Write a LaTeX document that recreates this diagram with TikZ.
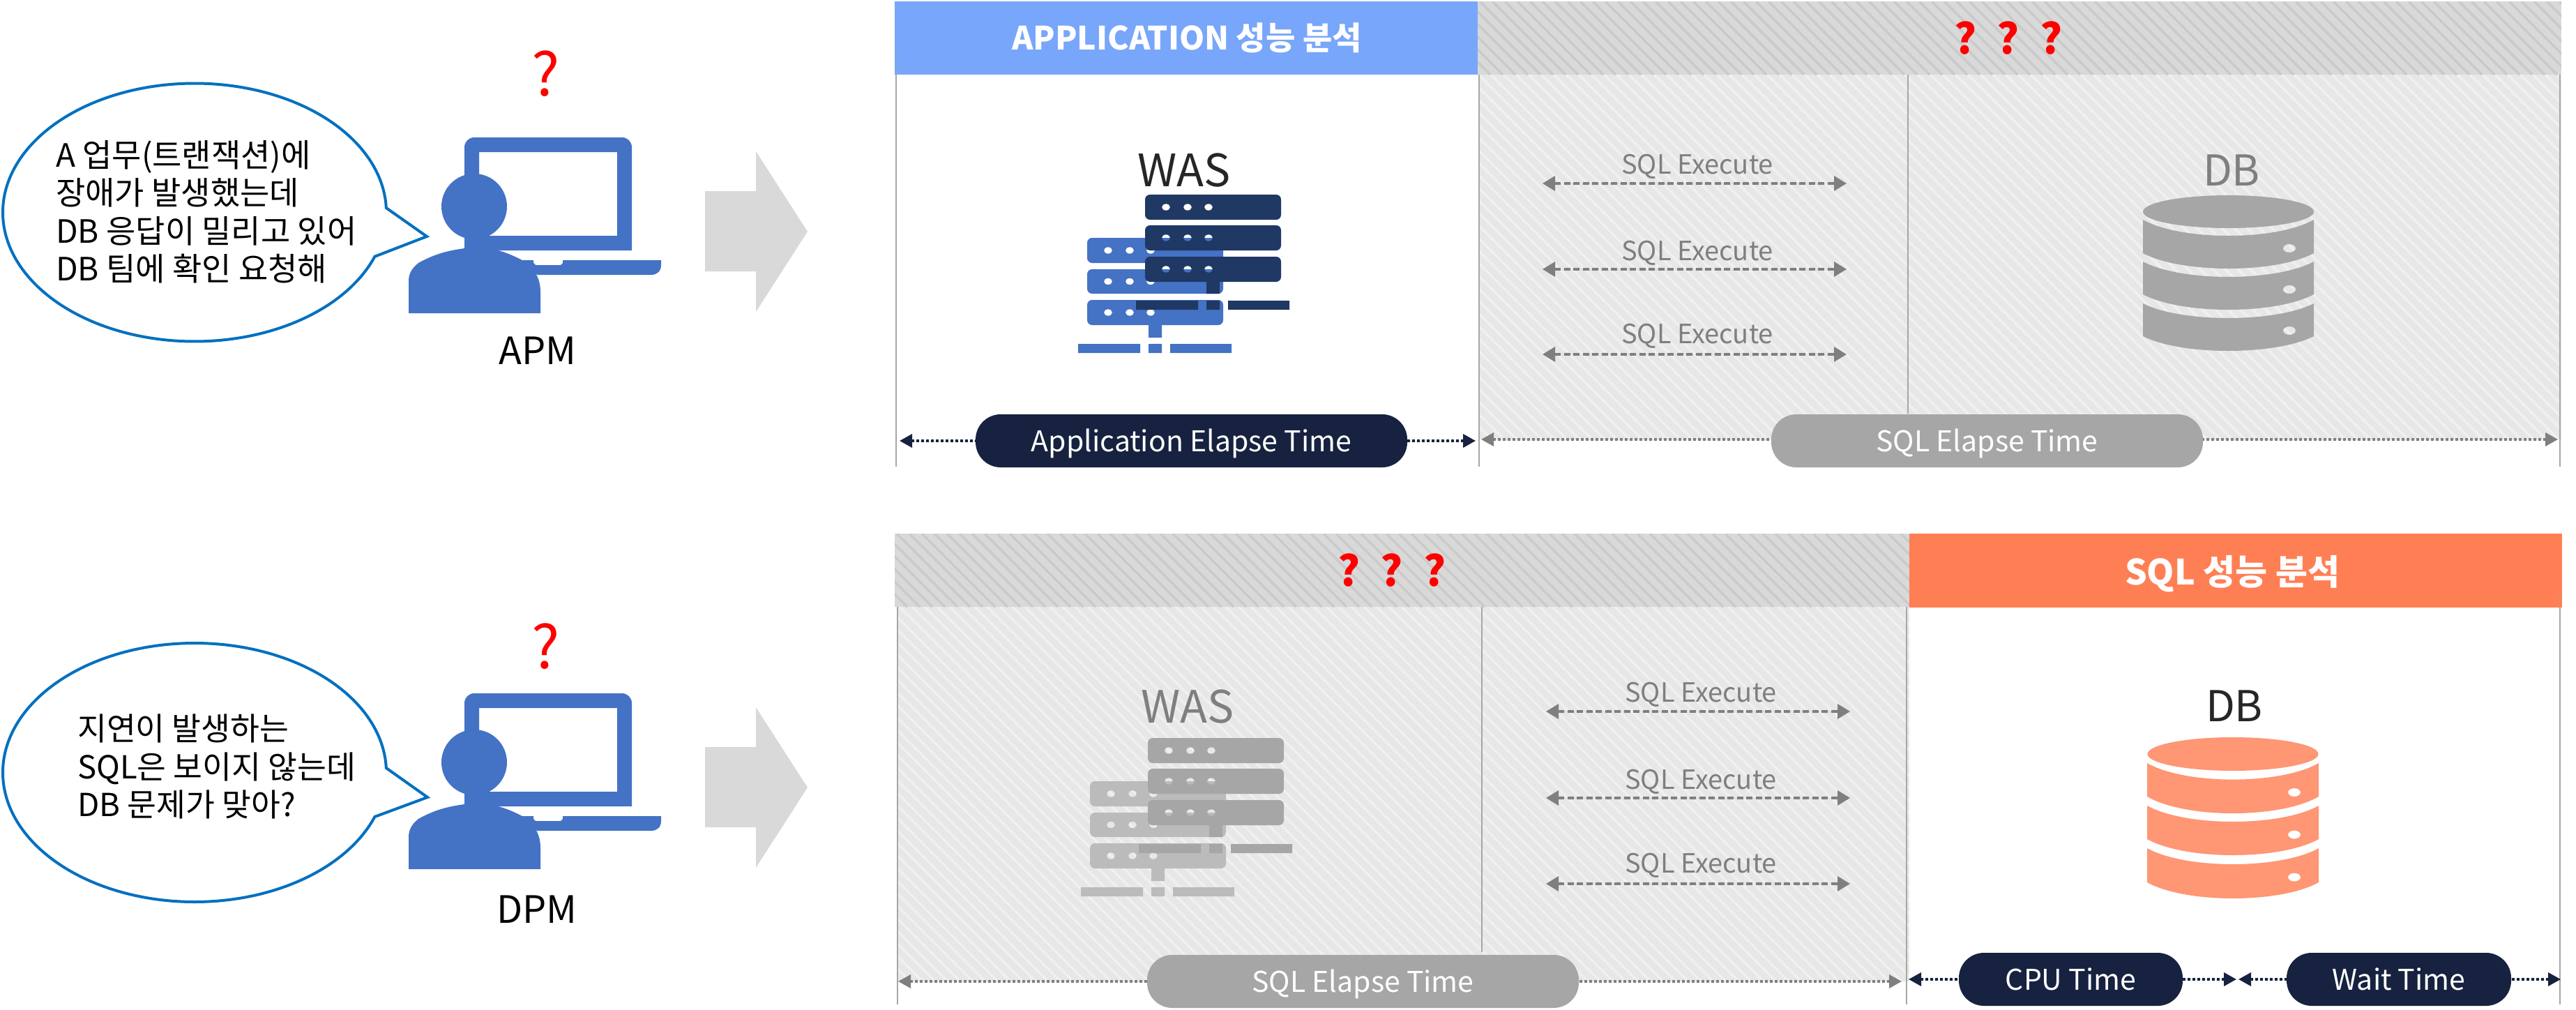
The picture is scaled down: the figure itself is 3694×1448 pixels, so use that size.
\documentclass[tikz,border=0pt]{standalone}
\usepackage{fontspec}
\setmainfont{Noto Sans CJK KR}
\usetikzlibrary{arrows.meta,calc}
\definecolor{hdrblue}{HTML}{78A6FA}
\definecolor{hdrorange}{HTML}{FF7F54}
\definecolor{personblue}{HTML}{4472C4}
\definecolor{srvnavy}{HTML}{1F3864}
\definecolor{pillnavy}{HTML}{16223F}
\definecolor{pillgray}{HTML}{A6A6A6}
\definecolor{lightgray}{HTML}{BBBBBB}
\definecolor{txtgray}{HTML}{7F7F7F}
\definecolor{dbsalmon}{HTML}{FF9674}
\definecolor{bubbleblue}{HTML}{0070C0}
\definecolor{arrowgray}{HTML}{D9D9D9}
\definecolor{hdrbase}{HTML}{D9D9D9}
\definecolor{hdrstripe}{HTML}{CACACA}
\definecolor{bodybase}{HTML}{E7E7E7}
\definecolor{bodystripe}{HTML}{F0F0F0}
\definecolor{nearblack}{HTML}{262626}
\newcommand{\wideq}{\spaceskip=25pt\relax ? ? ?}
\tikzset{
  lab/.style={inner sep=0pt,anchor=base,font=\fontsize{#1}{#1}\selectfont},
  pillbox/.style={inner sep=0pt,minimum height=76pt,rounded corners=36pt,text=white,
     text height=30pt,text depth=0pt,font=\fontsize{41}{41}\selectfont,anchor=center},
  vline/.style={draw=pillgray,line width=2.5pt},
  dotend/.style={line width=3.5pt,dash pattern=on 4pt off 3pt,
     {Triangle[length=18pt,width=19pt]}-},
  dashline/.style={draw=txtgray,fill=txtgray,line width=3.5pt,dash pattern=on 9pt off 4.5pt,
     {Triangle[length=18pt,width=21pt]}-{Triangle[length=18pt,width=21pt]}},
  bubble/.style={draw=bubbleblue,fill=white,line width=4pt,line join=miter},
  bigarrow/.style={fill=arrowgray},
  qmark/.style={lab=85,text=red},
  redq/.style={inner sep=0pt,anchor=base,text=red,font=\fontsize{60}{60}\selectfont\bfseries},
  hdrtext/.style={inner sep=0pt,anchor=base,text=white,font=\fontsize{#1}{#1}\selectfont\bfseries},
  bubtext/.style={inner sep=0pt,anchor=west,align=left,font=\fontsize{#1}{54.5}\selectfont},
}
\newcommand{\hatchbox}[6]{%
  \begin{scope}
    \clip (#1,#2) rectangle (#3,#4);
    \fill[#5] (#1,#2) rectangle (#3,#4);
    \pgfmathtruncatemacro{\hh}{#4-#2}
    \pgfmathtruncatemacro{\xa}{#1-\hh}
    \pgfmathtruncatemacro{\xb}{#1-\hh+18}
    \foreach \xx in {\xa,\xb,...,#3}{
      \draw[#6,line width=3.5pt] (\xx,#2) -- ++(\hh,\hh);
    }
  \end{scope}}
\newcommand{\srvrow}[4]{% x0,y0,x1,y1 with dots
  (#1,#2) [rounded corners=7pt] -- (#3,#2) -- (#3,#4) -- (#1,#4) -- cycle [sharp corners]
  ({#1+30},{(#2+#4)/2}) ellipse [x radius=6,y radius=4.7]
  ({#1+61},{(#2+#4)/2}) ellipse [x radius=6,y radius=4.7]
  ({#1+91},{(#2+#4)/2}) ellipse [x radius=6,y radius=4.7]}
\newcommand{\wasicon}[4]{%
  \begin{scope}[shift={(#1,#2)}]
    \fill[#3,even odd rule] \srvrow{1559}{341}{1754}{377} \srvrow{1559}{386}{1754}{421} \srvrow{1559}{430}{1754}{466};
    \fill[#3] (1647,466) rectangle (1666,484) (1546,493) rectangle (1635,506)
       (1647,493) rectangle (1666,506) (1678,493) rectangle (1766,506);
    \fill[#4,even odd rule] \srvrow{1642}{279}{1837}{315} \srvrow{1642}{323}{1837}{359} \srvrow{1642}{368}{1837}{404};
    \fill[#4] (1730,404) rectangle (1749,421) (1629,431) rectangle (1718,444)
       (1730,431) rectangle (1749,444) (1761,431) rectangle (1849,444);
  \end{scope}}
\newcommand{\dbtier}[9]{% colour, L,R, st,mid,sb,mb, dotx,doty
  \pgfmathsetmacro{\ca}{#4+(#5-#4)*4/3}
  \pgfmathsetmacro{\cb}{#6+(#7-#6)*4/3}
  \pgfmathsetmacro{\la}{#2+55}\pgfmathsetmacro{\ra}{#3-55}
  \fill[#1,even odd rule] (#2,#4) .. controls (\la,\ca) and (\ra,\ca) .. (#3,#4) -- (#3,#6)
     .. controls (\ra,\cb) and (\la,\cb) .. (#2,#6) -- cycle
     (#8,#9) ellipse [x radius=9,y radius=6];}
\newcommand{\personicon}[1]{%
  \begin{scope}[shift={(0,#1)}]
    \fill[personblue,even odd rule] (666,1156) [rounded corners=14pt] -- (666,994) -- (906,994) -- (906,1060) [sharp corners] -- (906,1156) -- cycle
       (687,1015) rectangle (885,1135);
    \fill[personblue] (680,1093) circle [radius=47];
    \fill[personblue] (666,1120) rectangle (702,1160);
    \fill[personblue] (586,1246) -- (586,1200) .. controls (586,1190) and (590,1182) .. (600,1174)
       .. controls (625,1160) and (645,1156) .. (666,1153) -- (700,1153)
       .. controls (720,1156) and (735,1163) .. (749,1170) .. controls (765,1180) and (775,1195) .. (775,1215) -- (775,1246) -- cycle;
    \fill[personblue] (749,1170) -- (765,1170) -- (765,1174) -- (768,1177) -- (804,1177) -- (807,1174) -- (807,1170) -- (948,1170) -- (948,1177)
       .. controls (948,1186) and (942,1191) .. (934,1191) -- (770,1191) -- cycle;
  \end{scope}}
\newcommand{\arrowshape}[1]{%
  \begin{scope}[shift={(0,#1)}]
    \fill[bigarrow] (1011,274) -- (1084,274) -- (1084,217) -- (1158,332) -- (1084,447) -- (1084,389) -- (1011,389) -- cycle;
  \end{scope}}
\begin{document}
\begin{tikzpicture}[x=1pt,y=-1pt]
\useasboundingbox (0,0) rectangle (3694,1448);
\fill[white] (0,0) rectangle (3694,1448);
% ---- top row left
\coordinate (tipA) at (612,339);
\draw[bubble] (tipA) -- plot[domain=20:358,samples=160,smooth] ({279+275*cos(\x)},{304.5+185*sin(\x)}) -- cycle;
\node[bubtext=46] (speechA) at (80,304) {A 업무(트랜잭션)에\\장애가 발생했는데\\DB 응답이 밀리고 있어\\DB 팀에 확인 요청해};
\node[qmark] (qA) at (783,137) {?};
\personicon{-797}
\node[lab=54] (apm) at (771,522) {APM};
\arrowshape{0}
% ---- top panel
\hatchbox{2121}{107}{3673}{630}{bodybase}{bodystripe}
\hatchbox{2119}{2}{3673}{107}{hdrbase}{hdrstripe}
\fill[hdrblue] (1283,2) rectangle (2119,107);
\draw[vline] (1285,107) -- (1285,669);
\draw[vline,opacity=.25] (1285,78) -- (1285,107);
\draw[vline] (2121,107) -- (2121,669);
\draw[vline] (2736,107) -- (2736,593);
\draw[vline] (3671,107) -- (3671,669);
\node[hdrtext=46] (hApp) at (1702,71) {APPLICATION 성능 분석};
\node[redq] (qqA) at (2880,77) {\wideq};
\node[lab=64,text=nearblack] (wasA) at (1698,267) {WAS};
\wasicon{0}{0}{personblue}{srvnavy}
\node[lab=61,text=txtgray] (dbA) at (3200,266) {DB};
\fill[pillgray] (3195.5,303.5) ellipse [x radius=122.5,y radius=23.5];
\dbtier{pillgray}{3073}{3318}{315}{338}{363}{385}{3283}{356}
\dbtier{pillgray}{3073}{3318}{375}{397}{422}{444}{3283}{415}
\dbtier{pillgray}{3073}{3318}{435}{456}{482}{503}{3283}{474}
\foreach \nm/\yy/\by in {a/263/249,b/386/373,c/508/492}{
  \coordinate (exl\nm) at (2212,\yy);
  \coordinate (exr\nm) at (2648,\yy);
  \draw[dashline] (exl\nm) -- (exr\nm);
  \node[lab=38,text=txtgray] (ext\nm) at (2434,\by) {SQL Execute};
}
\node[pillbox,fill=pillnavy,minimum width=619pt] (pApp) at (1708.5,632) {Application Elapse Time};
\coordinate (aL) at (1290,632);
\coordinate (aR) at (2116,632);
\draw[dotend,draw=pillnavy,fill=pillnavy] (aL) -- (aL -| pApp.west);
\draw[dotend,draw=pillnavy,fill=pillnavy] (aR) -- (aR -| pApp.east);
\node[pillbox,fill=pillgray,minimum width=619pt] (pSqlA) at (2849.5,632) {SQL Elapse Time};
\coordinate (bL) at (2124,630);
\coordinate (bR) at (3668,630);
\draw[dotend,draw=txtgray,fill=txtgray] (bL) -- (bL -| pSqlA.west);
\draw[dotend,draw=txtgray,fill=txtgray] (bR) -- (bR -| pSqlA.east);
% ---- bottom row left
\coordinate (tipB) at (613,1143);
\draw[bubble] (tipB) -- plot[domain=20:358,samples=160,smooth] ({279+275*cos(\x)},{1107.5+185.5*sin(\x)}) -- cycle;
\node[bubtext=45.5] (speechB) at (111,1099) {지연이 발생하는\\SQL은 보이지 않는데\\DB 문제가 맞아?};
\node[qmark] (qB) at (783,958) {?};
\personicon{0}
\node[lab=54] (dpm) at (770,1323) {DPM};
\arrowshape{797}
% ---- bottom panel
\hatchbox{1287}{870}{2738}{1407}{bodybase}{bodystripe}
\hatchbox{1283}{765}{2738}{870}{hdrbase}{hdrstripe}
\fill[hdrorange] (2738,765) rectangle (3674,871);
\draw[vline] (1287,870) -- (1287,1440);
\draw[vline] (2125,870) -- (2125,1365);
\draw[vline] (2734,870) -- (2734,1440);
\draw[vline] (3671,871) -- (3671,1440);
\draw[vline,opacity=.25] (3671,845) -- (3671,871);
\node[redq] (qqB) at (1996,840) {\wideq};
\node[hdrtext=50] (hSql) at (3201,838) {SQL 성능 분석};
\node[lab=64,text=txtgray] (wasB) at (1703,1036) {WAS};
\wasicon{4}{779}{lightgray}{pillgray}
\node[lab=61,text=nearblack] (dbB) at (3204,1034) {DB};
\fill[dbsalmon] (3202,1081) ellipse [x radius=122.5,y radius=24];
\dbtier{dbsalmon}{3079}{3325}{1094}{1117.6}{1142}{1166}{3290}{1136}
\dbtier{dbsalmon}{3079}{3325}{1155}{1178}{1203}{1226}{3290}{1196.6}
\dbtier{dbsalmon}{3079}{3325}{1216}{1239}{1265}{1288}{3290}{1257.6}
\foreach \nm/\yy/\by in {a/1020/1006,b/1144/1131,c/1267/1251}{
  \coordinate (fxl\nm) at (2217,\yy);
  \coordinate (fxr\nm) at (2653,\yy);
  \draw[dashline] (fxl\nm) -- (fxr\nm);
  \node[lab=38,text=txtgray] (fxt\nm) at (2439,\by) {SQL Execute};
}
\node[pillbox,fill=pillgray,minimum width=619pt] (pSqlB) at (1954.5,1407) {SQL Elapse Time};
\coordinate (cL) at (1288,1407);
\coordinate (cR) at (2727,1407);
\draw[dotend,draw=txtgray,fill=txtgray] (cL) -- (cL -| pSqlB.west);
\draw[dotend,draw=txtgray,fill=txtgray] (cR) -- (cR -| pSqlB.east);
\node[pillbox,fill=pillnavy,minimum width=321pt] (pCpu) at (2969.5,1404) {CPU Time};
\node[pillbox,fill=pillnavy,minimum width=322pt] (pWait) at (3440,1404) {Wait Time};
\coordinate (dL) at (2737,1404);
\coordinate (dR) at (3207,1404);
\coordinate (eL) at (3210,1404);
\coordinate (eR) at (3672,1404);
\draw[dotend,draw=pillnavy,fill=pillnavy] (dL) -- (pCpu.west);
\draw[dotend,draw=pillnavy,fill=pillnavy] (dR) -- (pCpu.east);
\draw[dotend,draw=pillnavy,fill=pillnavy] (eL) -- (pWait.west);
\draw[dotend,draw=pillnavy,fill=pillnavy] (eR) -- (pWait.east);
\end{tikzpicture}
\end{document}
